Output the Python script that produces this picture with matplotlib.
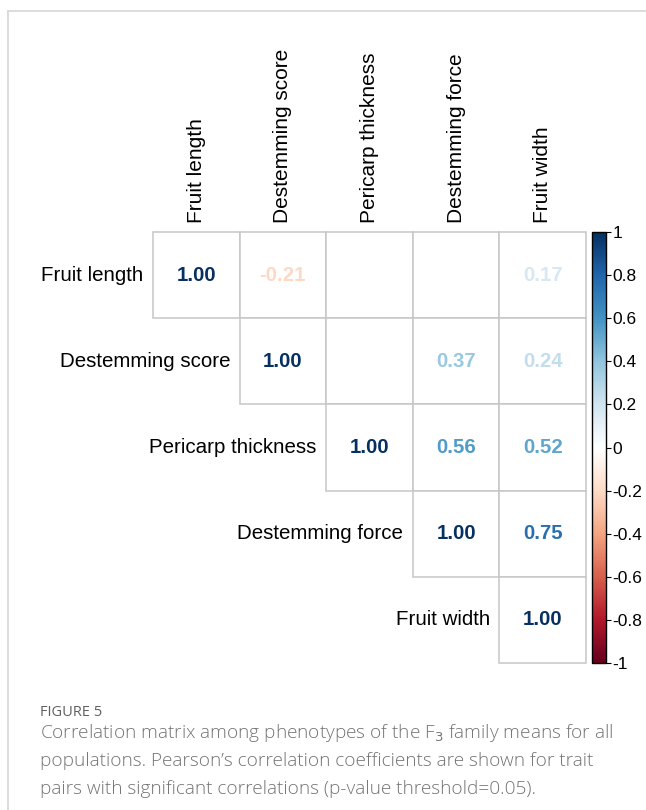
import numpy as np
import matplotlib
matplotlib.use("Agg")
import matplotlib.pyplot as plt
from matplotlib.patches import Rectangle
from matplotlib.lines import Line2D
from matplotlib.colors import Normalize, LinearSegmentedColormap
from matplotlib.cm import ScalarMappable

traits = ["Fruit length", "Destemming score", "Pericarp thickness",
          "Destemming force", "Fruit width"]

# upper triangle of the correlation matrix, nan = not significant
row_fruit_length = [1.00, -0.21, np.nan, np.nan, 0.17]
row_destem_score = [1.00, np.nan, 0.37, 0.24]
row_pericarp = [1.00, 0.56, 0.52]
row_destem_force = [1.00, 0.75]
row_fruit_width = [1.00]

cbar_ticks = [1, 0.8, 0.6, 0.4, 0.2, 0, -0.2, -0.4, -0.6, -0.8, -1]
cbar_labels = ["1", "0.8", "0.6", "0.4", "0.2", "0", "-0.2", "-0.4", "-0.6", "-0.8", "-1"]

rows = [row_fruit_length, row_destem_score, row_pericarp, row_destem_force, row_fruit_width]
n = len(traits)

plt.rcParams["font.family"] = ["Liberation Sans", "DejaVu Sans"]
# red-white-blue ramp with a pure white centre
palette = ["#67001F", "#B2182B", "#D6604D", "#F4A582", "#FDDBC7", "#FFFFFF",
           "#D1E5F0", "#92C5DE", "#4393C3", "#2166AC", "#053061"]
cmap = LinearSegmentedColormap.from_list("rdbu_white", palette, N=200)
norm = Normalize(-1, 1)

W, H = 646, 810
fig = plt.figure(figsize=(W / 100, H / 100), dpi=100)

# matrix area in pixels
x0, x1, y0, y1 = 153, 586, 232, 663
ax = fig.add_axes([x0 / W, 1 - y1 / H, (x1 - x0) / W, (y1 - y0) / H])
ax.set_xlim(0, n)
ax.set_ylim(n, 0)
ax.axis("off")

for i, vals in enumerate(rows):
    for k, v in enumerate(vals):
        j = i + k
        ax.add_patch(Rectangle((j, i), 1, 1, facecolor="white",
                               edgecolor="#c6c6c6", lw=1.1, clip_on=False))
        if not np.isnan(v):
            ax.text(j + 0.5, i + 0.5, f"{v:.2f}", ha="center", va="center",
                    fontsize=14.7, fontweight="bold", color=cmap(norm(v)))
    # row label just left of the diagonal cell
    ax.text(i - 0.11, i + 0.5, traits[i], ha="right", va="center", fontsize=14.8)

for j, name in enumerate(traits):
    ax.text(j + 0.5, -0.11, name, rotation=90, ha="center", va="bottom",
            fontsize=15, clip_on=False)

# colour legend
cax = fig.add_axes([592 / W, 1 - y1 / H, 14 / W, (y1 - y0) / H])
sm = ScalarMappable(norm=norm, cmap=cmap)
cb = fig.colorbar(sm, cax=cax)
cb.set_ticks(cbar_ticks)
cb.set_ticklabels(cbar_labels)
cb.outline.set_linewidth(1.0)
cb.outline.set_edgecolor("black")
cax.tick_params(direction="out", length=3.5, width=0.8, labelsize=12.5, pad=1)

# frame around the figure panel
fig.add_artist(Line2D([8 / W, 1], [1 - 11 / H, 1 - 11 / H], color="#d6d6d6", lw=1.2))
fig.add_artist(Line2D([8 / W, 8 / W], [1 - 11 / H, 0], color="#d6d6d6", lw=1.2))

# caption
cap_font = ["Open Sans", "DejaVu Sans"]
fig.text(40 / W, 1 - 712 / H, "FIGURE 5", ha="left", va="center",
         fontsize=10.5, color="#606060", family=cap_font)
caption = ["Correlation matrix among phenotypes of the F$_3$ family means for all",
           "populations. Pearson\u2019s correlation coefficients are shown for trait",
           "pairs with significant correlations (p-value threshold=0.05)."]
for k, line in enumerate(caption):
    fig.text(40 / W, 1 - (733 + 28 * k) / H, line, ha="left", va="center",
             fontsize=13.7, color="#747474", family=cap_font, fontweight="light")

fig.savefig("out.png", dpi=100, facecolor="white")
